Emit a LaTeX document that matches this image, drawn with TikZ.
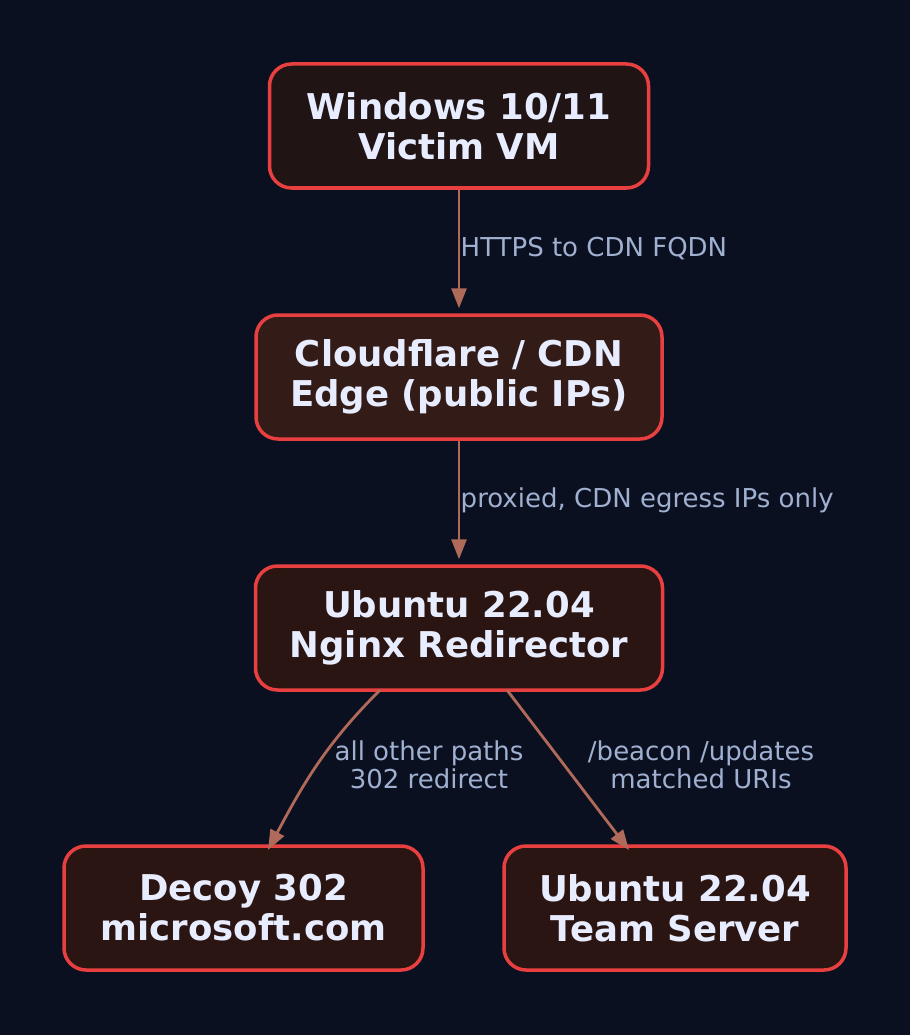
\documentclass[tikz,border=0pt]{standalone}
\usepackage{fontspec}
\setmainfont{DejaVu Sans}
\usetikzlibrary{arrows.meta,positioning}
\definecolor{bgcol}{HTML}{0B1020}
\definecolor{boxline}{HTML}{E84040}
\definecolor{edgecol}{HTML}{B06A5A}
\definecolor{labcol}{HTML}{A0B0D0}
\definecolor{txtcol}{HTML}{E8ECFF}
\definecolor{fillA}{HTML}{201414}
\definecolor{fillB}{HTML}{331C18}
\definecolor{fillC}{HTML}{2B1512}
\tikzset{
  host/.style={draw=boxline, line width=3.5pt, rounded corners=22pt, text=txtcol,
    font=\fontsize{35.5}{40}\selectfont\bfseries, align=center,
    minimum height=124pt, inner sep=0pt},
  link/.style={draw=edgecol, line width=2.8pt, -{Triangle[length=20pt,width=15pt]}},
  tag/.style={text=labcol, font=\fontsize{26}{28}\selectfont, align=center}
}
\begin{document}
\begin{tikzpicture}[x=1pt,y=-1pt]
\fill[bgcol] (0,0) rectangle (910,1035);
\useasboundingbox (0,0) rectangle (910,1035);
\node[host, fill=fillA, minimum width=379pt] (win) at (459,126) {Windows 10/11\\Victim VM};
\node[host, fill=fillB, minimum width=406pt] (cdn) at (459,377) {Cloudflare / CDN\\Edge (public IPs)};
\node[host, fill=fillC, minimum width=407pt] (redir) at (459,628) {Ubuntu 22.04\\Nginx Redirector};
\node[host, fill=fillC, minimum width=359pt] (decoy) at (243.5,908) {Decoy 302\\microsoft.com};
\node[host, fill=fillC, minimum width=342pt] (team) at (675,908) {Ubuntu 22.04\\Team Server};
\coordinate (r1) at (380,690);
\coordinate (r2) at (507,690);
\coordinate (d1) at (268,850);
\coordinate (t1) at (629,850);
\draw[link] (win) -- node[tag, right, xshift=-3pt] {HTTPS to CDN FQDN} ([yshift=5pt]cdn.north);
\draw[link] (cdn) -- node[tag, right, xshift=-3pt] {proxied, CDN egress IPs only} ([yshift=5pt]redir.north);
\draw[link] (r1) to[out=-135,in=62] (d1);
\draw[link] (r2) -- (t1);
\node[tag] (lab1) at (429,765) {all other paths\\302 redirect};
\node[tag] (lab2) at (701,765) {/beacon /updates\\matched URIs};
\end{tikzpicture}
\end{document}
